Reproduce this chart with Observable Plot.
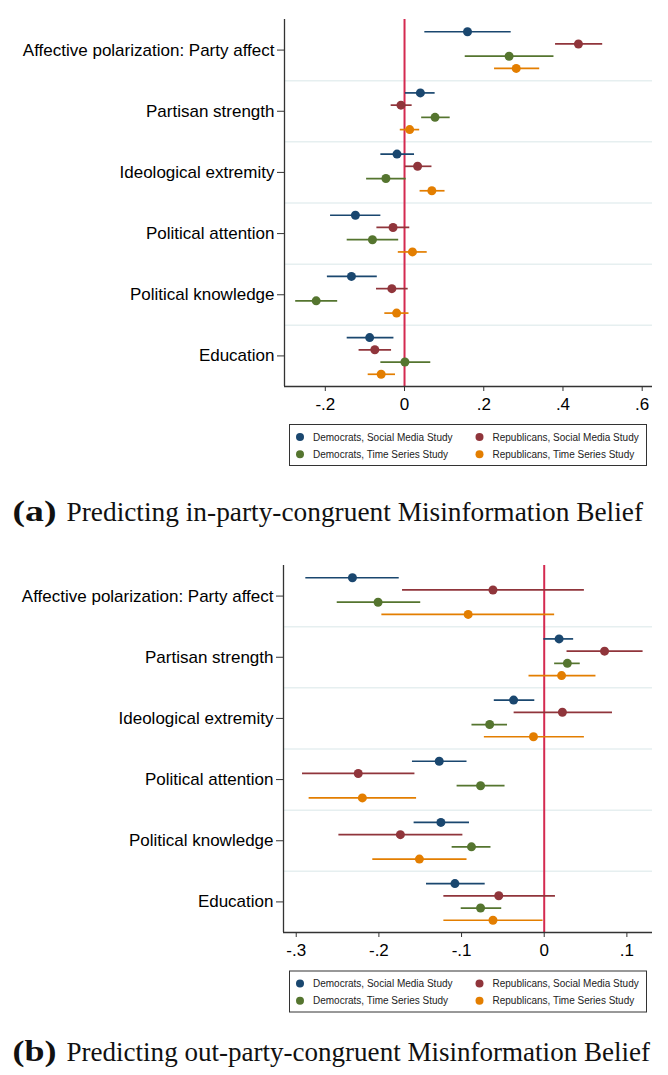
<!DOCTYPE html>
<html>
<head>
<meta charset="utf-8">
<script src="https://cdn.jsdelivr.net/npm/d3@7"></script>
<script src="https://cdn.jsdelivr.net/npm/@observablehq/plot@0.6"></script>
<style>
  html, body { margin: 0; padding: 0; background: #fff; }
  #page { position: relative; width: 668px; height: 1075px; overflow: hidden; background: #fff; }
  .panel { position: absolute; left: 0; }
  #overlay { position: absolute; left: 0; top: 0; pointer-events: none; }
</style>
</head>
<body>
<div id="page">
  <div id="panelA" class="panel" style="top:0px"></div>
  <div id="panelB" class="panel" style="top:546px"></div>
  <svg id="overlay" width="668" height="1075"></svg>
</div>
<script>
// ---------------- data ----------------
const categories = [
  "Affective polarization: Party affect",
  "Partisan strength",
  "Ideological extremity",
  "Political attention",
  "Political knowledge",
  "Education"
];
const series = [
  "Democrats, Social Media Study",
  "Republicans, Social Media Study",
  "Democrats, Time Series Study",
  "Republicans, Time Series Study"
];
const colors = ["#1a476f", "#90353b", "#55752f", "#e37e00"];

// Panel (a): in-party-congruent misinformation belief
const aDemSM_est = [0.159, 0.040, -0.019, -0.124, -0.134, -0.088];
const aDemSM_lo  = [0.050, 0.001, -0.061, -0.188, -0.196, -0.146];
const aDemSM_hi  = [0.268, 0.076,  0.024, -0.061, -0.070, -0.028];
const aRepSM_est = [0.439, -0.009, 0.033, -0.029, -0.032, -0.075];
const aRepSM_lo  = [0.380, -0.035, 0.001, -0.071, -0.072, -0.116];
const aRepSM_hi  = [0.499,  0.018, 0.068,  0.012,  0.008, -0.034];
const aDemTS_est = [0.264, 0.077, -0.047, -0.081, -0.223, 0.001];
const aDemTS_lo  = [0.152, 0.042, -0.097, -0.146, -0.276, -0.061];
const aDemTS_hi  = [0.376, 0.114,  0.003, -0.016, -0.170,  0.065];
const aRepTS_est = [0.282, 0.013, 0.069, 0.020, -0.020, -0.059];
const aRepTS_lo  = [0.226, -0.012, 0.038, -0.017, -0.051, -0.093];
const aRepTS_hi  = [0.340, 0.037, 0.101, 0.056, 0.010, -0.024];

// Panel (b): out-party-congruent misinformation belief
const bDemSM_est = [-0.232, 0.018, -0.037, -0.127, -0.125, -0.108];
const bDemSM_lo  = [-0.289, -0.001, -0.061, -0.160, -0.158, -0.143];
const bDemSM_hi  = [-0.176, 0.035, -0.012, -0.094, -0.091, -0.072];
const bRepSM_est = [-0.062, 0.073, 0.022, -0.225, -0.174, -0.055];
const bRepSM_lo  = [-0.172, 0.027, -0.037, -0.293, -0.249, -0.122];
const bRepSM_hi  = [0.048, 0.119, 0.082, -0.157, -0.099, 0.013];
const bDemTS_est = [-0.201, 0.028, -0.066, -0.077, -0.088, -0.077];
const bDemTS_lo  = [-0.251, 0.012, -0.088, -0.106, -0.112, -0.101];
const bDemTS_hi  = [-0.150, 0.043, -0.045, -0.048, -0.065, -0.052];
const bRepTS_est = [-0.092, 0.021, -0.013, -0.220, -0.151, -0.062];
const bRepTS_lo  = [-0.197, -0.019, -0.073, -0.285, -0.208, -0.122];
const bRepTS_hi  = [0.012, 0.062, 0.048, -0.155, -0.094, -0.002];

const xTicksA = [-0.2, 0, 0.2, 0.4, 0.6];
const xTickLabelsA = ["-.2", "0", ".2", ".4", ".6"];
const xTicksB = [-0.3, -0.2, -0.1, 0, 0.1];
const xTickLabelsB = ["-.3", "-.2", "-.1", "0", ".1"];

const captionA = ["(a)", "Predicting in-party-congruent Misinformation Belief"];
const captionB = ["(b)", "Predicting out-party-congruent Misinformation Belief"];

// ---------------- build ----------------
function rowsFrom(sets) {
  const rows = [];
  sets.forEach(([est, lo, hi], k) => {
    categories.forEach((c, i) => {
      rows.push({series: series[k], cat: c, y: i + (k + 1) * 0.2, est: est[i], lo: lo[i], hi: hi[i]});
    });
  });
  return rows;
}

const rowsA = rowsFrom([
  [aDemSM_est, aDemSM_lo, aDemSM_hi],
  [aRepSM_est, aRepSM_lo, aRepSM_hi],
  [aDemTS_est, aDemTS_lo, aDemTS_hi],
  [aRepTS_est, aRepTS_lo, aRepTS_hi]
]);
const rowsB = rowsFrom([
  [bDemSM_est, bDemSM_lo, bDemSM_hi],
  [bRepSM_est, bRepSM_lo, bRepSM_hi],
  [bDemTS_est, bDemTS_lo, bDemTS_hi],
  [bRepTS_est, bRepTS_lo, bRepTS_hi]
]);

const catTicks = categories.map((c, i) => i + 0.5);
const separators = categories.slice(1).map((c, i) => i + 1);

function makePanel(rows, xDomain, xTicks, xLabels, marginLeft) {
  return Plot.plot({
    width: 668,
    height: 416,
    marginLeft: marginLeft,
    marginRight: 16,
    marginTop: 19,
    marginBottom: 30,
    style: {fontFamily: "'Liberation Sans', Arial, sans-serif", fontSize: "17px", color: "#000", background: "#fff", overflow: "visible"},
    x: {domain: xDomain, label: null},
    y: {domain: [0, categories.length], reverse: true, label: null},
    color: {domain: series, range: colors},
    marks: [
      Plot.ruleY(separators, {stroke: "#e6eff0", strokeWidth: 1.5}),
      Plot.ruleX([0], {stroke: "#d42a50", strokeWidth: 2}),
      Plot.link(rows, {x1: "lo", x2: "hi", y1: "y", y2: "y", stroke: "series", strokeWidth: 1.7}),
      Plot.dot(rows, {x: "est", y: "y", fill: "series", r: 4.5, stroke: "none"}),
      Plot.ruleX([xDomain[0]], {stroke: "#333", strokeWidth: 1.3}),
      Plot.ruleY([categories.length], {stroke: "#333", strokeWidth: 1.3}),
      Plot.axisX({ticks: xTicks, tickFormat: (d) => xLabels[xTicks.indexOf(d)], tickSize: 5, tickPadding: 6, label: null, stroke: "#333"}),
      Plot.axisY({ticks: catTicks, tickFormat: (d) => categories[Math.floor(d)], tickSize: 7, tickPadding: 3, label: null, stroke: "#333"})
    ]
  });
}

document.getElementById("panelA").appendChild(
  makePanel(rowsA, [-0.303, 0.626], xTicksA, xTickLabelsA, 284)
);
document.getElementById("panelB").appendChild(
  makePanel(rowsB, [-0.3154, 0.131], xTicksB, xTickLabelsB, 283)
);

// ---------------- legends & captions ----------------
const svg = d3.select("#overlay");

function legend(top) {
  const g = svg.append("g").attr("transform", `translate(289.5, ${top + 0.5})`);
  g.append("rect").attr("width", 357).attr("height", 41).attr("fill", "#fff").attr("stroke", "#333").attr("stroke-width", 1);
  const pos = [[10.5, 12.5], [190, 12.5], [10.5, 29.8], [190, 29.8]];
  series.forEach((s, k) => {
    const [x, y] = pos[k];
    g.append("circle").attr("cx", x).attr("cy", y).attr("r", 4).attr("fill", colors[k]);
    g.append("text").attr("x", x + 13).attr("y", y).attr("dy", "0.35em")
      .attr("font-family", "'Liberation Sans', Arial, sans-serif").attr("font-size", 10)
      .attr("fill", "#222").text(s);
  });
}
legend(424);
legend(970.5);

function caption(parts, baseline, endX) {
  svg.append("text").attr("x", 12.5).attr("y", baseline)
    .attr("font-family", "'Liberation Serif', 'Times New Roman', serif").attr("font-weight", "bold")
    .attr("font-size", 30).attr("textLength", 44).attr("lengthAdjust", "spacingAndGlyphs")
    .attr("fill", "#111").text(parts[0]);
  svg.append("text").attr("x", 66.5).attr("y", baseline)
    .attr("font-family", "'Liberation Serif', 'Times New Roman', serif")
    .attr("font-size", 27).attr("textLength", endX - 66.5).attr("lengthAdjust", "spacingAndGlyphs")
    .attr("fill", "#111").text(parts[1]);
}
caption(captionA, 521, 643);
caption(captionB, 1061, 650);
</script>
</body>
</html>
